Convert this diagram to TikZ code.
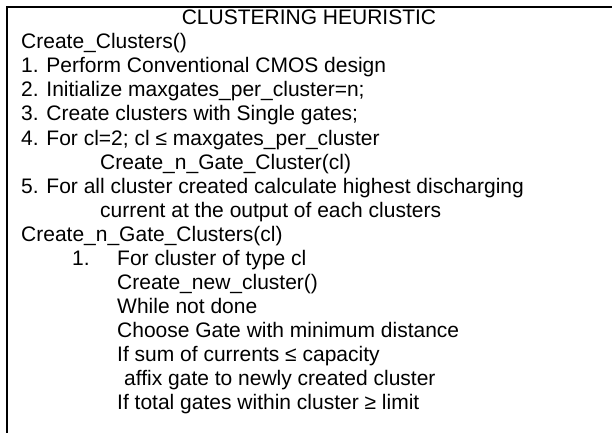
\documentclass[tikz,border=0pt]{standalone}
\usepackage{fontspec}
\setmainfont{Liberation Sans}
\usetikzlibrary{positioning}

\begin{document}
\begin{tikzpicture}[
    x=1pt, y=-1pt,
    frame/.style={line width=2pt}, % open box round the listing
    line/.style={anchor=base west, inner sep=0pt, font=\fontsize{21}{24}\selectfont},
    head/.style={anchor=base, inner sep=0pt, font=\fontsize{21}{24}\selectfont}]

    \useasboundingbox (0,0) rectangle (612,433);

    % Frame: top rule and left rule only
    \coordinate (tl) at (7,7);
    \coordinate (tr) at (612,7);
    \coordinate (bl) at (7,433);
    \draw[frame] (tr) -- (tl) -- (bl);

    % Heading
    \node[head] (title) at (309,25) {CLUSTERING HEURISTIC};

    % Main procedure
    \node[line] (cc)   at (21,49)  {Create\_Clusters()};
    \node[line] (s1)   at (21,73)  {1. Perform Conventional CMOS design};
    \node[line] (s2)   at (21,97)  {2. Initialize maxgates\_per\_cluster=n;};
    \node[line] (s3)   at (21,121) {3. Create clusters with Single gates;};
    \node[line] (s4)   at (21,145) {4. For cl=2; cl ≤ maxgates\_per\_cluster};
    \node[line] (s4a)  at (100,169) {Create\_n\_Gate\_Cluster(cl)};
    \node[line] (s5)   at (21,193) {5. For all cluster created calculate highest discharging};
    \node[line] (s5a)  at (100,217) {current at the output of each clusters};

    % Sub-procedure
    \node[line] (cg)   at (21,241) {Create\_n\_Gate\_Clusters(cl)};
    \node[line] (n1)   at (72,265) {1.};
    \node[line] (t1)   at (117,265) {For cluster of type cl};
    \node[line] (t2)   at (117,289) {Create\_new\_cluster()};
    \node[line] (t3)   at (117,313) {While not done};
    \node[line] (t4)   at (117,337) {Choose Gate with minimum distance};
    \node[line] (t5)   at (117,361) {If sum of currents ≤ capacity};
    \node[line] (t5a)  at (124,385) {affix gate to newly created cluster};
    \node[line] (t6)   at (117,409) {If total gates within cluster ≥ limit};

\end{tikzpicture}
\end{document}
